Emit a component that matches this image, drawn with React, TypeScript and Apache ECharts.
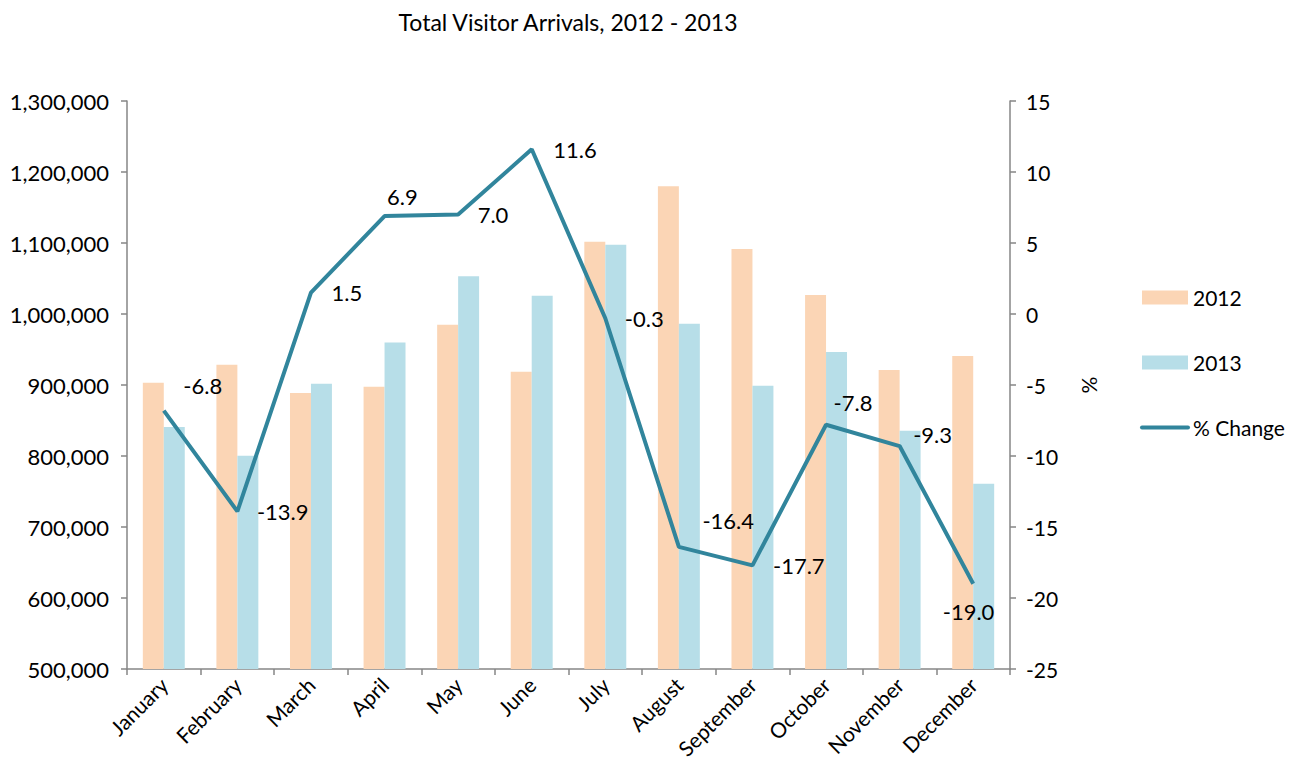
import React, { useEffect, useRef } from "react";
import * as echarts from "echarts";

const months = ["January","February","March","April","May","June","July","August","September","October","November","December"];
const arrivals2012 = [903000, 928600, 888700, 897600, 984900, 918700, 1101800, 1180000, 1091500, 1026800, 921100, 940800];
const arrivals2013 = [840800, 800400, 901800, 960000, 1053000, 1025800, 1097600, 986300, 899000, 946500, 835600, 761000];
const pctChange = [-6.8, -13.9, 1.5, 6.9, 7.0, 11.6, -0.3, -16.4, -17.7, -7.8, -9.3, -19.0];
const leftTicks = { min: 500000, max: 1300000, interval: 100000 };
const rightTicks = { min: -25, max: 15, interval: 5 };

// label placement (style only)
const labelOffsets: [number, number][] = [
  [14, -25], [14, 0], [15, 0], [-3, -20], [14, 0], [16, 0],
  [14, 0], [18, -26], [15, 0], [2, -22], [8, -12], [-36, 28],
];

const FONT = "Lato, 'Open Sans', sans-serif";

function commas(v: number) {
  return String(v).replace(/\B(?=(\d{3})+(?!\d))/g, ",");
}

export default function App() {
  const ref = useRef<HTMLDivElement>(null);
  useEffect(() => {
    if (!ref.current) return;
    const chart = echarts.init(ref.current, null, { renderer: "svg" });
    const axisLine = { show: true, onZero: false, lineStyle: { color: "#868686", width: 1.5 } };
    const tick = { show: true, length: 6, lineStyle: { color: "#868686", width: 1.5 } };
    chart.setOption({
      animation: false,
      backgroundColor: "#ffffff",
      textStyle: { fontFamily: FONT },
      title: {
        text: "Total Visitor Arrivals, 2012 - 2013",
        left: 563,
        textAlign: "center",
        top: 5,
        textStyle: { fontFamily: FONT, fontSize: 23, fontWeight: "normal", color: "#000" },
      },
      grid: { left: 127, right: 285, top: 101, bottom: 105, containLabel: false },
      legend: {
        orient: "vertical",
        left: 1135,
        top: 282,
        itemWidth: 46,
        itemHeight: 14,
        itemGap: 44,
        textStyle: { fontFamily: FONT, fontSize: 21, color: "#000" },
        data: [
          { name: "2012", icon: "rect" },
          { name: "2013", icon: "rect" },
          { name: "% Change", lineStyle: { width: 4, cap: "round" } },
        ],
      },
      xAxis: {
        type: "category",
        data: months,
        axisLine,
        axisTick: tick,
        axisLabel: { rotate: 45, fontSize: 21, color: "#000", fontFamily: FONT, margin: 12, interval: 0 },
      },
      yAxis: [
        {
          type: "value",
          min: leftTicks.min,
          max: leftTicks.max,
          interval: leftTicks.interval,
          axisLine,
          axisTick: tick,
          splitLine: { show: false },
          axisLabel: { fontSize: 22, color: "#000", fontFamily: FONT, margin: 18, formatter: (v: number) => commas(v) },
        },
        {
          type: "value",
          position: "right",
          min: rightTicks.min,
          max: rightTicks.max,
          interval: rightTicks.interval,
          axisLine,
          axisTick: tick,
          splitLine: { show: false },
          axisLabel: { fontSize: 21, color: "#000", fontFamily: FONT, margin: 16 },
          name: "%",
          nameLocation: "middle",
          nameRotate: 90,
          nameGap: 68,
          nameTextStyle: { fontSize: 21, color: "#000", fontFamily: FONT },
        },
      ],
      series: [
        {
          name: "2012",
          type: "bar",
          data: arrivals2012,
          barGap: "0%",
          barCategoryGap: "43%",
          itemStyle: { color: "#FBD5B5" },
        },
        {
          name: "2013",
          type: "bar",
          data: arrivals2013,
          itemStyle: { color: "#B7DEE8" },
        },
        {
          name: "% Change",
          type: "line",
          yAxisIndex: 1,
          data: pctChange.map((v, i) => ({
            value: v,
            label: { offset: labelOffsets[i] },
          })),
          symbol: "circle",
          symbolSize: 1,
          showSymbol: true,
          itemStyle: { color: "rgba(0,0,0,0)", borderWidth: 0 },
          lineStyle: { color: "#31859C", width: 4 },
          label: {
            show: true,
            position: "right",
            distance: 5,
            fontSize: 22,
            color: "#000",
            fontFamily: FONT,
            formatter: (p: any) => Number(p.value).toFixed(1),
          },
          z: 5,
        },
      ],
    });
    return () => chart.dispose();
  }, []);
  return <div ref={ref} style={{ position: "fixed", left: 0, top: 0, width: 1295, height: 774 }} />;
}
